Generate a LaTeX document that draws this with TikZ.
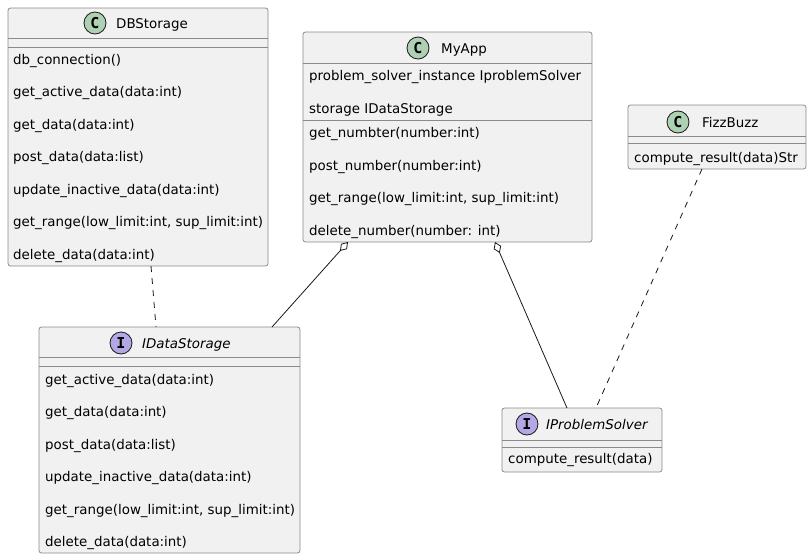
\documentclass[tikz,border=0pt]{standalone}
\usepackage{fontspec}
\setmainfont{DejaVu Sans}[ItalicFont={DejaVu Sans Oblique},BoldFont={DejaVu Sans Bold}]
\newfontfamily\iconfont{DejaVu Sans Mono}[BoldFont={DejaVu Sans Mono Bold}]
\usetikzlibrary{arrows.meta}
\definecolor{boxfill}{HTML}{F1F1F1}
\definecolor{boxline}{HTML}{8A8A8A}
\definecolor{darkline}{HTML}{181818}
\definecolor{cicon}{HTML}{ADD1B2}
\definecolor{iicon}{HTML}{B4A7E5}
\tikzset{
  umlbox/.style={draw=boxline, line width=0.8pt, fill=boxfill, rounded corners=2.5pt, anchor=north west, inner sep=0pt, outer sep=0pt},
  sepline/.style={draw=boxline, line width=0.8pt},
  member/.style={anchor=base west, inner sep=0pt, font=\fontsize{13.4}{16}\selectfont},
  ititle/.style={anchor=base west, inner sep=0pt, font=\fontsize{13.4}{16}\selectfont\itshape},
  classicon/.style={circle, draw=darkline, line width=0.8pt, fill=cicon, minimum size=22pt, inner sep=0pt, font=\iconfont\bfseries\fontsize{15}{16}\selectfont},
  ifaceicon/.style={classicon, fill=iicon},
  conn/.style={draw=darkline, line width=0.8pt},
  dashconn/.style={conn, dash pattern=on 6pt off 6pt},
  aggr/.style={conn, {Diamond[fill=white, length=12pt, width=8pt, line width=0.8pt]}-},
}
\begin{document}
\begin{tikzpicture}[x=1pt,y=-1pt]
\useasboundingbox (0,0) rectangle (812,560);

% DBStorage
\node[umlbox, minimum width=260pt, minimum height=258pt] (dbs) at (8,8) {};
\draw[sepline] (8,38) -- (268,38);
\draw[sepline] (8,47) -- (268,47);
\node[classicon] (dbsicon) at (95,23) {C};
\node[member] (dbst) at (116,28) {DBStorage};
\node[member] (dbs1) at (13,64) {db\_connection()};
\node[member] (dbs2) at (13,96.5) {get\_active\_data(data:int)};
\node[member] (dbs3) at (13,129) {get\_data(data:int)};
\node[member] (dbs4) at (13,161.5) {post\_data(data:list)};
\node[member] (dbs5) at (13,194) {update\_inactive\_data(data:int)};
\node[member] (dbs6) at (13,226.5) {get\_range(low\_limit:int, sup\_limit:int)};
\node[member] (dbs7) at (13,259) {delete\_data(data:int)};

% MyApp
\node[umlbox, minimum width=289pt, minimum height=210pt] (app) at (303,32) {};
\draw[sepline] (303,63) -- (592,63);
\draw[sepline] (303,120) -- (592,120);
\node[classicon] (appicon) at (418,48) {C};
\node[member] (appt) at (441,53) {MyApp};
\node[member] (appa1) at (309,80) {problem\_solver\_instance IproblemSolver};
\node[member] (appa2) at (309,113) {storage IDataStorage};
\node[member] (appm1) at (309,137.5) {get\_numbter(number:int)};
\node[member] (appm2) at (309,170) {post\_number(number:int)};
\node[member] (appm3) at (309,202.5) {get\_range(low\_limit:int, sup\_limit:int)};
\node[member] (appm4) at (309,235) {delete\_number(number: int)};

% FizzBuzz
\node[umlbox, minimum width=178pt, minimum height=64pt] (fb) at (628,105) {};
\draw[sepline] (628,136) -- (806,136);
\draw[sepline] (628,143) -- (806,143);
\node[classicon] (fbicon) at (678,122) {C};
\node[member] (fbt) at (702,127) {FizzBuzz};
\node[member] (fb1) at (634,162) {compute\_result(data)Str};

% IProblemSolver
\node[umlbox, minimum width=160pt, minimum height=64pt] (ips) at (502,408) {};
\draw[sepline] (502,440) -- (662,440);
\draw[sepline] (502,447) -- (662,447);
\node[ifaceicon] (ipsicon) at (527,424) {I};
\node[ititle] (ipst) at (546,429) {IProblemSolver};
\node[member] (ips1) at (508,463) {compute\_result(data)};

% IDataStorage
\node[umlbox, minimum width=261pt, minimum height=226pt] (ids) at (39,327) {};
\draw[sepline] (39,357) -- (300,357);
\draw[sepline] (39,366) -- (300,366);
\node[ifaceicon] (idsicon) at (121,343) {I};
\node[ititle] (idst) at (142,348) {IDataStorage};
\node[member] (ids1) at (45,384) {get\_active\_data(data:int)};
\node[member] (ids2) at (45,416.5) {get\_data(data:int)};
\node[member] (ids3) at (45,449) {post\_data(data:list)};
\node[member] (ids4) at (45,481.5) {update\_inactive\_data(data:int)};
\node[member] (ids5) at (45,514) {get\_range(low\_limit:int, sup\_limit:int)};
\node[member] (ids6) at (45,546.5) {delete\_data(data:int)};

% connector end points
\coordinate (c1a) at (151,266);
\coordinate (c1b) at (156,327);
\coordinate (c2a) at (348,242);
\coordinate (c2b) at (272,327);
\coordinate (c3a) at (495,242);
\coordinate (c3b) at (567,408);
\coordinate (c4a) at (702,169);
\coordinate (c4b) at (596,408);

\draw[dashconn] (c1a) -- (c1b);
\draw[aggr] (c2a) -- (c2b);
\draw[aggr] (c3a) -- (c3b);
\draw[dashconn] (c4a) -- (c4b);
\end{tikzpicture}
\end{document}
